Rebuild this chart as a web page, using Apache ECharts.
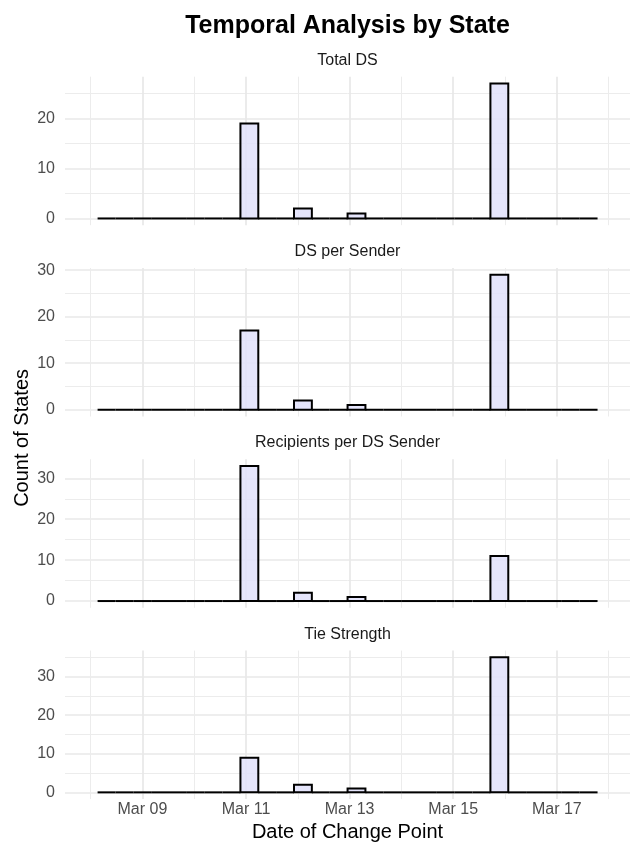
<!DOCTYPE html>
<html>
<head>
<meta charset="utf-8">
<script src="https://cdn.jsdelivr.net/npm/echarts@6/dist/echarts.min.js"></script>
<style>
  html, body { margin: 0; padding: 0; background: #ffffff; }
  #chart { width: 631px; height: 848px; }
</style>
</head>
<body>
<div id="chart"></div>
<script>
// ---------------- DATA ----------------
// x values are days since Mar 01 (Mar 01 = 0, Mar 11 = 10)
const binStart = 7.135;      // left edge of first histogram bin
const binWidth = 0.3447;     // bin width in days
const panelTitles = ['Total DS', 'DS per Sender', 'Recipients per DS Sender', 'Tie Strength'];
const totalDS      = [0,0,0,0,0,0,0,0,19,0,0,2,0,0,1,0,0,0,0,0,0,0,27,0,0,0,0,0];
const dsPerSender  = [0,0,0,0,0,0,0,0,17,0,0,2,0,0,1,0,0,0,0,0,0,0,29,0,0,0,0,0];
const recipPerDS   = [0,0,0,0,0,0,0,0,33,0,0,2,0,0,1,0,0,0,0,0,0,0,11,0,0,0,0,0];
const tieStrength  = [0,0,0,0,0,0,0,0, 9,0,0,2,0,0,1,0,0,0,0,0,0,0,35,0,0,0,0,0];
const xTickLabels = { 8: 'Mar 09', 10: 'Mar 11', 12: 'Mar 13', 14: 'Mar 15', 16: 'Mar 17' };
const mainTitle = 'Temporal Analysis by State';
const xTitle = 'Date of Change Point';
const yTitle = 'Count of States';

// ---------------- LAYOUT ----------------
const panels = [totalDS, dsPerSender, recipPerDS, tieStrength];
const gridLeft = 65, gridRight = 630;
const panelTops = [76.7, 268.0, 459.3, 650.6];
const panelH = 148.5;
const xMin = 6.506, xMax = 17.413;
const FONT = '"Liberation Sans", Arial, Helvetica, sans-serif';

const grids = [], xAxes = [], yAxes = [], series = [], graphics = [];

panels.forEach((counts, i) => {
  const maxC = Math.max.apply(null, counts);
  grids.push({ left: gridLeft, top: panelTops[i], width: gridRight - gridLeft, height: panelH });
  xAxes.push({
    type: 'value', gridIndex: i, min: xMin, max: xMax,
    minInterval: 2, maxInterval: 2,
    axisLine: { show: false }, axisTick: { show: false },
    minorTick: { show: false, splitNumber: 2 },
    splitLine: { show: true, showMinLine: false, showMaxLine: false, lineStyle: { color: '#e8e8e8', width: 1.7 } },
    minorSplitLine: { show: true, lineStyle: { color: '#ececec', width: 1 } },
    axisLabel: {
      show: i === panels.length - 1,
      showMinLabel: false, showMaxLabel: false,
      margin: 2, color: '#4d4d4d', fontSize: 16, fontFamily: FONT,
      formatter: v => (xTickLabels[Math.round(v)] && Math.abs(v - Math.round(v)) < 1e-6) ? xTickLabels[Math.round(v)] : ''
    }
  });
  yAxes.push({
    type: 'value', gridIndex: i, min: -0.05 * maxC, max: 1.05 * maxC,
    minInterval: 10, maxInterval: 10,
    axisLine: { show: false }, axisTick: { show: false },
    minorTick: { show: false, splitNumber: 2 },
    splitLine: { show: true, showMinLine: false, showMaxLine: false, lineStyle: { color: '#e8e8e8', width: 1.7 } },
    minorSplitLine: { show: true, lineStyle: { color: '#ececec', width: 1 } },
    axisLabel: {
      showMinLabel: false, showMaxLabel: false,
      margin: 10, color: '#4d4d4d', fontSize: 16, fontFamily: FONT,
      formatter: v => (Math.abs(v / 10 - Math.round(v / 10)) < 1e-6) ? String(Math.round(v)) : ''
    }
  });
  const data = counts.map((c, k) => [binStart + k * binWidth, binStart + (k + 1) * binWidth, c]);
  series.push({
    type: 'custom', xAxisIndex: i, yAxisIndex: i, data: data,
    encode: { x: [0, 1], y: 2 },
    renderItem: function (params, api) {
      const p0 = api.coord([api.value(0), api.value(2)]);
      const p1 = api.coord([api.value(1), 0]);
      if (api.value(2) === 0) {
        return { type: 'line', shape: { x1: p0[0], y1: p1[1], x2: p1[0], y2: p1[1] },
                 style: { stroke: '#000000', lineWidth: 2 } };
      }
      return {
        type: 'rect',
        shape: { x: p0[0], y: p0[1], width: p1[0] - p0[0], height: p1[1] - p0[1] },
        style: { fill: 'rgba(224,224,250,0.85)', stroke: '#000000', lineWidth: 2 }
      };
    }
  });
  graphics.push({
    type: 'text', z: 10,
    style: { text: panelTitles[i], x: (gridLeft + gridRight) / 2, y: panelTops[i] - 16.5,
             align: 'center', verticalAlign: 'middle', fill: '#1a1a1a', fontSize: 16, fontFamily: FONT }
  });
});

graphics.push({
  type: 'text',
  style: { text: mainTitle, x: (gridLeft + gridRight) / 2, y: 26, align: 'center', verticalAlign: 'middle',
           fill: '#000000', fontSize: 25, fontWeight: 'bold', fontFamily: FONT }
});
graphics.push({
  type: 'text',
  style: { text: xTitle, x: (gridLeft + gridRight) / 2, y: 832, align: 'center', verticalAlign: 'middle',
           fill: '#000000', fontSize: 20, fontFamily: FONT }
});
graphics.push({
  type: 'text', x: 22, y: (panelTops[0] + panelTops[3] + panelH) / 2, rotation: Math.PI / 2,
  style: { text: yTitle, x: 0, y: 0, align: 'center', verticalAlign: 'middle',
           fill: '#000000', fontSize: 20, fontFamily: FONT }
});

const chart = echarts.init(document.getElementById('chart'), null, { renderer: 'canvas' });
chart.setOption({
  backgroundColor: '#ffffff',
  animation: false,
  grid: grids, xAxis: xAxes, yAxis: yAxes, series: series,
  graphic: graphics
});
</script>
</body>
</html>
